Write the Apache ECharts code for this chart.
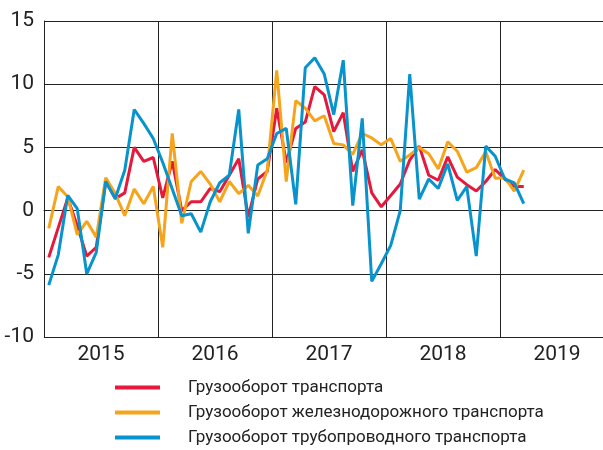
<!DOCTYPE html>
<html>
<head>
<meta charset="utf-8">
<script src="https://cdn.jsdelivr.net/npm/echarts@6/dist/echarts.min.js"></script>
<style>
  html, body { margin: 0; padding: 0; background: #fff; }
  #chart { width: 603px; height: 450px; }
</style>
</head>
<body>
<div id="chart"></div>
<script>
// years on the x axis (each band = 12 months)
var years = ["2015", "2016", "2017", "2018", "2019"];
var seriesNames = [
  "Грузооборот транспорта",
  "Грузооборот железнодорожного транспорта",
  "Грузооборот трубопроводного транспорта"
];
// monthly values, Jan 2015 .. Mar 2019
var totalVals = [
  -3.7, -1.35, 1.0, -1.2, -3.6, -2.9, 2.3, 0.95, 1.4, 5.0, 3.9, 4.2,
  1.0, 3.9, 0.0, 0.7, 0.7, 1.75, 1.5, 2.8, 4.1, -0.5, 2.5, 3.1,
  8.1, 3.8, 6.5, 7.0, 9.8, 9.15, 6.25, 7.75, 3.1, 4.8, 1.4, 0.3,
  1.2, 2.1, 4.0, 5.1, 2.8, 2.4, 4.25, 2.65, 2.05, 1.55, 2.3, 3.25,
  2.5, 1.9, 1.9
];
var railVals = [
  -1.4, 1.9, 1.1, -1.9, -0.85, -2.1, 2.6, 1.35, -0.4, 1.7, 0.55, 1.9,
  -2.9, 6.1, -1.0, 2.3, 3.1, 2.1, 0.7, 2.3, 1.35, 2.0, 1.15, 3.2,
  11.1, 2.3, 8.7, 8.1, 7.1, 7.5, 5.3, 5.2, 4.45, 6.1, 5.75, 5.2,
  5.7, 3.9, 4.4, 5.0, 4.5, 3.3, 5.45, 4.7, 3.05, 3.4, 4.65, 2.55,
  2.6, 1.55, 3.2
];
var pipeVals = [
  -5.9, -3.5, 1.2, 0.15, -5.0, -3.3, 2.3, 0.95, 3.2, 8.0, 6.9, 5.7,
  3.8, 1.7, -0.4, -0.25, -1.7, 0.7, 2.2, 2.8, 8.0, -1.8, 3.6, 4.1,
  6.1, 6.5, 0.5, 11.3, 12.1, 10.8, 7.6, 11.9, 0.4, 7.3, -5.6, -4.2,
  -2.75, 0.0, 10.8, 0.9, 2.5, 1.75, 3.7, 0.8, 1.9, -3.6, 5.1, 4.3,
  2.5, 2.2, 0.55
];
var colors = ["#e5193b", "#f6a41c", "#0893cc"];

var font = "Roboto, sans-serif";

// place each month in the middle of its slot
function toPoints(vals) {
  return vals.map(function (v, i) { return [i + 0.5, v]; });
}

var myChart = echarts.init(document.getElementById("chart"));
var option = {
  animation: false,
  color: colors,
  grid: {
    left: 44, top: 21, width: 570, height: 316,
    containLabel: false,
    outerBoundsMode: "none"
  },
  legend: {
    orient: "vertical",
    left: 115,
    top: 378,
    padding: 0,
    itemWidth: 45,
    itemHeight: 4,
    itemGap: 6,
    icon: "rect",
    textStyle: {
      fontFamily: font,
      fontSize: 17,
      lineHeight: 19,
      color: "#222",
      padding: [0, 0, 0, 23]
    },
    data: seriesNames
  },
  xAxis: [
    {
      type: "value",
      min: 0,
      max: 60,
      interval: 12,
      axisLine: { show: true, lineStyle: { color: "#222", width: 1 } },
      axisTick: { show: false },
      axisLabel: { show: false },
      splitLine: { show: true, lineStyle: { color: "#222", width: 1 } }
    },
    {
      type: "category",
      position: "bottom",
      data: years,
      boundaryGap: true,
      axisLine: { show: false },
      axisTick: { show: false },
      splitLine: { show: false },
      axisLabel: { fontFamily: font, fontSize: 21, color: "#222", margin: 7 }
    }
  ],
  yAxis: {
    type: "value",
    min: -10,
    max: 15,
    interval: 5,
    axisLine: { show: true, lineStyle: { color: "#222", width: 1 } },
    axisTick: { show: false },
    axisLabel: { fontFamily: font, fontSize: 21, color: "#222", margin: 10 },
    splitLine: { show: true, lineStyle: { color: "#222", width: 1 } }
  },
  series: [
    { name: seriesNames[0], type: "line", data: toPoints(totalVals) },
    { name: seriesNames[1], type: "line", data: toPoints(railVals) },
    { name: seriesNames[2], type: "line", data: toPoints(pipeVals) }
  ].map(function (s, k) {
    s.showSymbol = false;
    s.symbol = "none";
    s.lineStyle = { width: 3, color: colors[k] };
    s.z = 3 + k;
    return s;
  })
};
myChart.setOption(option);
</script>
</body>
</html>
